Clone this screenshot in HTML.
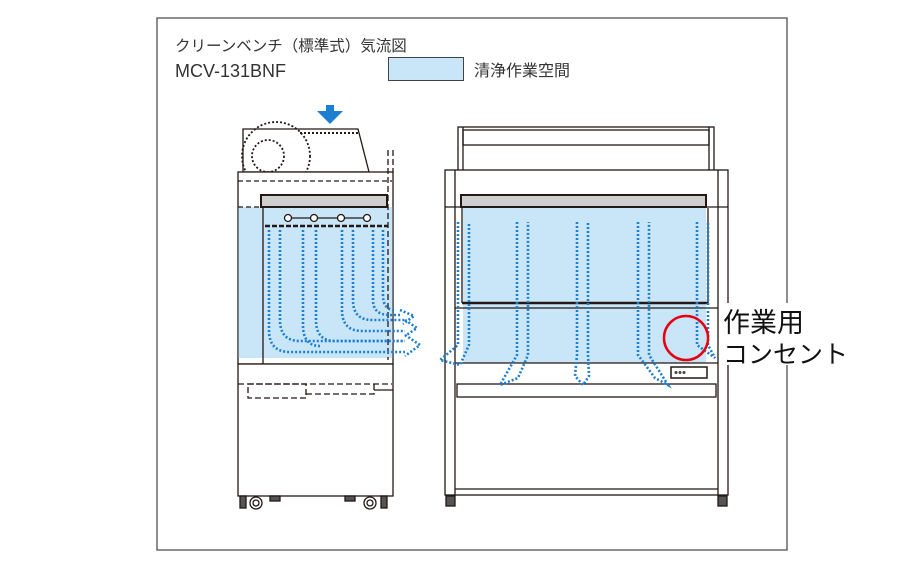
<!DOCTYPE html>
<html><head><meta charset="utf-8"><style>
html,body{margin:0;padding:0;background:#fff;}
svg{display:block;}
text{font-family:"Liberation Sans","Noto Sans CJK JP",sans-serif;}
</style></head><body>
<svg width="920" height="568" viewBox="0 0 920 568" xmlns="http://www.w3.org/2000/svg">
<rect x="157" y="18" width="630" height="532" fill="#fff" stroke="#444" stroke-width="1.2"/>
<text x="175" y="51" font-size="15.5" fill="#333">クリーンベンチ（標準式）気流図</text>
<text x="175" y="77" font-size="18" fill="#333">MCV-131BNF</text>
<rect x="388.5" y="57.5" width="75" height="23" fill="#c9e6f8" stroke="#444"/>
<text x="474" y="76" font-size="16" fill="#333">清浄作業空間</text>

<!-- LEFT UNIT -->
<g stroke="#231815" fill="none" stroke-width="1.3">
<polygon points="317,111 343,111 330,124" fill="#1e7fd0" stroke="none"/>
<rect x="326" y="105" width="8" height="7" fill="#1e7fd0" stroke="none"/>
<polygon points="243,129 358,129 369,172 243,172" fill="#fff"/>
<circle cx="276" cy="156" r="34" stroke-dasharray="2,2" stroke-width="1.8"/>
<circle cx="268" cy="156" r="16" stroke-dasharray="2,2" stroke-width="1.8"/>
<line x1="300" y1="133" x2="358" y2="133" stroke-dasharray="2,2" stroke-width="2"/>
<rect x="238" y="172" width="155" height="192" fill="#fff"/>
<rect x="238.5" y="207" width="154" height="151" fill="#c9e6f8" stroke="none"/>
<line x1="238" y1="181" x2="392" y2="181" stroke-dasharray="5,3"/>
<line x1="238" y1="207" x2="262" y2="207" stroke-dasharray="5,3"/>
<rect x="261" y="195" width="126" height="12" fill="#cfcfcf" stroke-width="2"/>
<line x1="263" y1="207" x2="263" y2="364"/>
<line x1="288" y1="218" x2="367" y2="218"/>
<circle cx="288" cy="218" r="3.5" fill="#fff"/><circle cx="314" cy="218" r="3.5" fill="#fff"/>
<circle cx="341" cy="218" r="3.5" fill="#fff"/><circle cx="367" cy="218" r="3.5" fill="#fff"/>
<line x1="265" y1="226" x2="388" y2="226" stroke-dasharray="5,2" stroke-width="2.5"/>
<line x1="388" y1="150" x2="388" y2="360" stroke-dasharray="6,3"/>
<line x1="393" y1="150" x2="393" y2="172" stroke-dasharray="6,3"/>
<rect x="238" y="364" width="155" height="132" fill="#fff"/>
<polyline points="238,384 392,384" stroke-dasharray="6,3"/>
<rect x="248" y="384" width="58" height="14" stroke-dasharray="6,3"/>
<polyline points="306,394 374,394 374,384" stroke-dasharray="6,3"/>
<line x1="374" y1="390" x2="393" y2="390"/>
<rect x="240" y="496" width="6" height="12" fill="#555"/>
<circle cx="256" cy="503" r="6"/><circle cx="256" cy="503" r="3"/>
<rect x="270" y="496" width="10" height="5" fill="#555"/>
<rect x="345" y="496" width="10" height="5" fill="#555"/>
<circle cx="370" cy="503" r="6"/><circle cx="370" cy="503" r="3"/>
<rect x="381" y="496" width="6" height="12" fill="#555"/>
</g>
<g stroke="#1e7fd0" fill="none" stroke-width="2.6" stroke-dasharray="2,2">
<path d="M269,230 V330 Q269,352 290,352 H405"/>
<path d="M280,230 V320 Q280,341 300,341 H405"/>
<path d="M303,230 V325 Q303,346 320,346"/>
<path d="M316,230 V320 Q316,341 335,341 H405"/>
<path d="M342,230 V310 Q342,331 362,331 H405"/>
<path d="M353,230 V300 Q353,320 372,320 H405"/>
<path d="M373,230 V300 Q373,315 390,315 H400"/>
<path d="M383,230 V295 Q383,310 395,310"/>
<path d="M400,310 L414,316 L403,324 M405,335 L420,345 L405,356 M405,320 L417,328 L405,336"/>
</g>

<!-- RIGHT UNIT -->
<g stroke="#231815" fill="none" stroke-width="1.3">
<rect x="458" y="127" width="256" height="45" fill="#fff"/>
<rect x="463" y="130" width="246" height="15"/>
<line x1="463" y1="127" x2="463" y2="172"/><line x1="709" y1="127" x2="709" y2="172"/>
<rect x="445" y="170" width="283" height="325" fill="#fff"/>
<rect x="463" y="208" width="243" height="155" fill="#c9e6f8" stroke="none"/>
<line x1="455" y1="170" x2="455" y2="495"/><line x1="718" y1="170" x2="718" y2="495"/>
<line x1="445" y1="207" x2="728" y2="207"/>
<rect x="461" y="195" width="245" height="12" fill="#cfcfcf" stroke-width="2"/>
<line x1="462" y1="208" x2="462" y2="303"/><line x1="708" y1="208" x2="708" y2="303"/>
<line x1="462" y1="303" x2="708" y2="303" stroke-width="2.5"/>
<line x1="455" y1="308" x2="718" y2="308"/>
<line x1="455" y1="363" x2="718" y2="363"/>
<rect x="457" y="384" width="259" height="13"/>
<rect x="671" y="367" width="36" height="11" fill="#fff" stroke-width="1.5"/>
<line x1="455" y1="489" x2="718" y2="489"/>
<rect x="446" y="496" width="9" height="10" fill="#555"/>
<rect x="718" y="496" width="9" height="10" fill="#555"/>
</g>
<g fill="#444"><circle cx="676" cy="372.5" r="1.5"/><circle cx="680" cy="372.5" r="1.5"/><circle cx="684" cy="372.5" r="1.5"/></g>
<g stroke="#1e7fd0" fill="none" stroke-width="2.6" stroke-dasharray="2,2">
<path d="M458,222 V345 L440,360 L460,365 L469,345 V222"/>
<path d="M517,222 V355 L500,385 L518,378 L528,355 V222"/>
<path d="M577,222 V355 L575,376 L583,385 L589,376 L588,355 V222"/>
<path d="M638,222 V355 L655,378 L668,385 L649,355 V222"/>
<path d="M697,222 V345 L715,358 L708,345 V222"/>
</g>
<circle cx="686" cy="338" r="22" fill="none" stroke="#e60012" stroke-width="2.5"/>
<rect x="721" y="303" width="130" height="62" fill="#fff"/>
<text x="723" y="332" font-size="27" fill="#111">作業用</text>
<text x="723" y="363" font-size="25" fill="#111">コンセント</text>
</svg>
</body></html>
